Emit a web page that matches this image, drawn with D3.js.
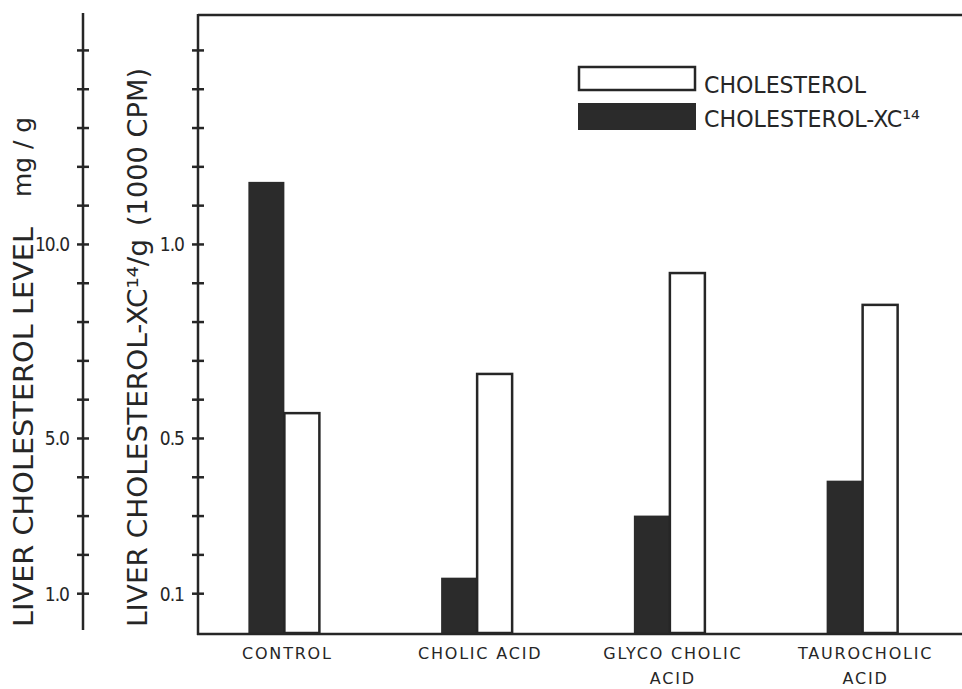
<!DOCTYPE html>
<html>
<head>
<meta charset="utf-8">
<script src="https://cdn.jsdelivr.net/npm/d3@7"></script>
<style>
  body { margin: 0; background: #fff; }
  svg text { fill: #262626; font-family: "DejaVu Sans", sans-serif; }
  svg .narrow { font-family: "DejaVu Sans Condensed", "Liberation Sans Narrow", "DejaVu Sans", sans-serif; }
</style>
</head>
<body>
<div id="chart"></div>
<script>
var categories = ["CONTROL", "CHOLIC ACID", "GLYCOCHOLIC ACID", "TAUROCHOLIC ACID"];
var categoryLines = [["CONTROL"], ["CHOLIC ACID"], ["GLYCO CHOLIC", "ACID"], ["TAUROCHOLIC", "ACID"]];
// liver cholesterol, mg/g (outer axis)
var cholesterol = [5.64, 6.65, 9.25, 8.43];
// liver cholesterol-XC14, 1000 CPM per g (inner axis)
var cholesterolXC14 = [1.16, 0.14, 0.30, 0.39];
var series = ["xc14", "chol"];
var outerTicks = [1, 2, 3, 4, 5, 6, 7, 8, 9, 10, 11, 12, 13, 14, 15];
var outerLabels = [10, 5, 1];
var innerTicks = [0.1, 0.2, 0.3, 0.4, 0.5, 0.6, 0.7, 0.8, 0.9, 1.0, 1.1, 1.2, 1.3, 1.4, 1.5];
var innerLabels = [1.0, 0.5, 0.1];

var width = 962, height = 689;
var ink = "#262626";

var svg = d3.select("#chart").append("svg")
  .attr("width", width)
  .attr("height", height);

var y = d3.scaleLinear().domain([0, 15.9]).range([632, 15]);
var yInner = d3.scaleLinear().domain([0, 1.59]).range([632, 15]);

var x = d3.scaleBand().domain(categories).range([188, 959]);
var xSub = d3.scaleBand().domain(series)
  .range([x.bandwidth() / 2 - 36, x.bandwidth() / 2 + 36]);

// bars
var groups = svg.selectAll(".cat")
  .data(categories)
  .enter().append("g")
  .attr("class", "cat")
  .attr("transform", function(d) { return "translate(" + x(d) + ",0)"; });

groups.append("rect")
  .attr("x", xSub("xc14"))
  .attr("width", xSub.bandwidth())
  .attr("y", function(d, i) { return yInner(cholesterolXC14[i]); })
  .attr("height", function(d, i) { return 633 - yInner(cholesterolXC14[i]); })
  .attr("fill", "#2b2b2b");

groups.append("rect")
  .attr("x", xSub("chol"))
  .attr("width", xSub.bandwidth() - 1)
  .attr("y", function(d, i) { return y(cholesterol[i]); })
  .attr("height", function(d, i) { return 633 - y(cholesterol[i]); })
  .attr("fill", "#fff")
  .attr("stroke", ink)
  .attr("stroke-width", 2.5);

// frame lines
svg.append("line").attr("x1", 198).attr("x2", 962).attr("y1", 15).attr("y2", 15)
  .attr("stroke", ink).attr("stroke-width", 2.5);
svg.append("line").attr("x1", 197).attr("x2", 962).attr("y1", 634).attr("y2", 634)
  .attr("stroke", ink).attr("stroke-width", 2.5);

// outer axis (mg/g)
var outerAxis = d3.axisLeft(y)
  .tickValues(outerTicks)
  .tickSize(6)
  .tickPadding(8)
  .tickFormat(function(d) { return outerLabels.indexOf(d) >= 0 ? d3.format(".1f")(d) : ""; });

var gOuter = svg.append("g").attr("transform", "translate(83,0)").call(outerAxis);
gOuter.select(".domain").remove();
gOuter.append("line").attr("y1", 13).attr("y2", 630).attr("stroke", ink).attr("stroke-width", 2.5);

// inner axis (1000 CPM)
var innerAxis = d3.axisLeft(yInner)
  .tickValues(innerTicks)
  .tickSize(6)
  .tickPadding(8)
  .tickFormat(function(d) { return innerLabels.some(function(l) { return Math.abs(l - d) < 1e-6; }) ? d3.format(".1f")(d) : ""; });

var gInner = svg.append("g").attr("transform", "translate(198,0)").call(innerAxis);
gInner.select(".domain").remove();
gInner.append("line").attr("y1", 14).attr("y2", 635).attr("stroke", ink).attr("stroke-width", 2.5);

[gOuter, gInner].forEach(function(g) {
  g.selectAll(".tick line").attr("x1", -6).attr("x2", 6).attr("stroke", ink).attr("stroke-width", 2.5);
  g.selectAll(".tick text").attr("class", "narrow").attr("font-size", 19)
    .attr("letter-spacing", -1).attr("fill", ink).attr("dy", "0.36em");
});

// axis titles
var t1 = svg.append("g").attr("transform", "translate(33,0) rotate(-90)");
t1.append("text").attr("x", -627).attr("y", 0).attr("font-size", 27)
  .attr("textLength", 400).attr("lengthAdjust", "spacingAndGlyphs")
  .text("LIVER CHOLESTEROL LEVEL");
t1.append("text").attr("x", -197).attr("y", -2).attr("font-size", 25)
  .attr("textLength", 80).attr("lengthAdjust", "spacingAndGlyphs")
  .text("mg / g");

var t2 = svg.append("g").attr("transform", "translate(147,0) rotate(-90)");
t2.append("text").attr("x", -627).attr("y", 0).attr("font-size", 27)
  .attr("textLength", 388).attr("lengthAdjust", "spacingAndGlyphs")
  .text("LIVER CHOLESTEROL-XC\u00b9\u2074/g");
t2.append("text").attr("x", -226).attr("y", 0).attr("font-size", 27)
  .attr("textLength", 158).attr("lengthAdjust", "spacingAndGlyphs")
  .text("(1000 CPM)");

// category labels
var labels = svg.selectAll(".catlabel")
  .data(categories)
  .enter().append("text")
  .attr("class", "catlabel")
  .attr("text-anchor", "middle")
  .attr("font-size", 16)
  .attr("letter-spacing", 1.8);

labels.each(function(d, i) {
  var cx = x(d) + x.bandwidth() / 2 + 3;
  d3.select(this).selectAll("tspan")
    .data(categoryLines[i])
    .enter().append("tspan")
    .attr("x", cx)
    .attr("y", function(l, j) { return 659 + j * 25; })
    .text(function(l) { return l; });
});

// legend
var legend = svg.append("g");
legend.append("rect").attr("x", 579).attr("y", 67).attr("width", 116).attr("height", 23)
  .attr("fill", "#fff").attr("stroke", ink).attr("stroke-width", 2.5);
legend.append("rect").attr("x", 578).attr("y", 103).attr("width", 118).attr("height", 27)
  .attr("fill", "#2b2b2b");
legend.append("text").attr("x", 704).attr("y", 93).attr("font-size", 23)
  .attr("textLength", 162).attr("lengthAdjust", "spacingAndGlyphs")
  .text("CHOLESTEROL");
legend.append("text").attr("x", 704).attr("y", 127).attr("font-size", 23)
  .attr("textLength", 216).attr("lengthAdjust", "spacingAndGlyphs")
  .text("CHOLESTEROL-XC\u00b9\u2074");
</script>
</body>
</html>
